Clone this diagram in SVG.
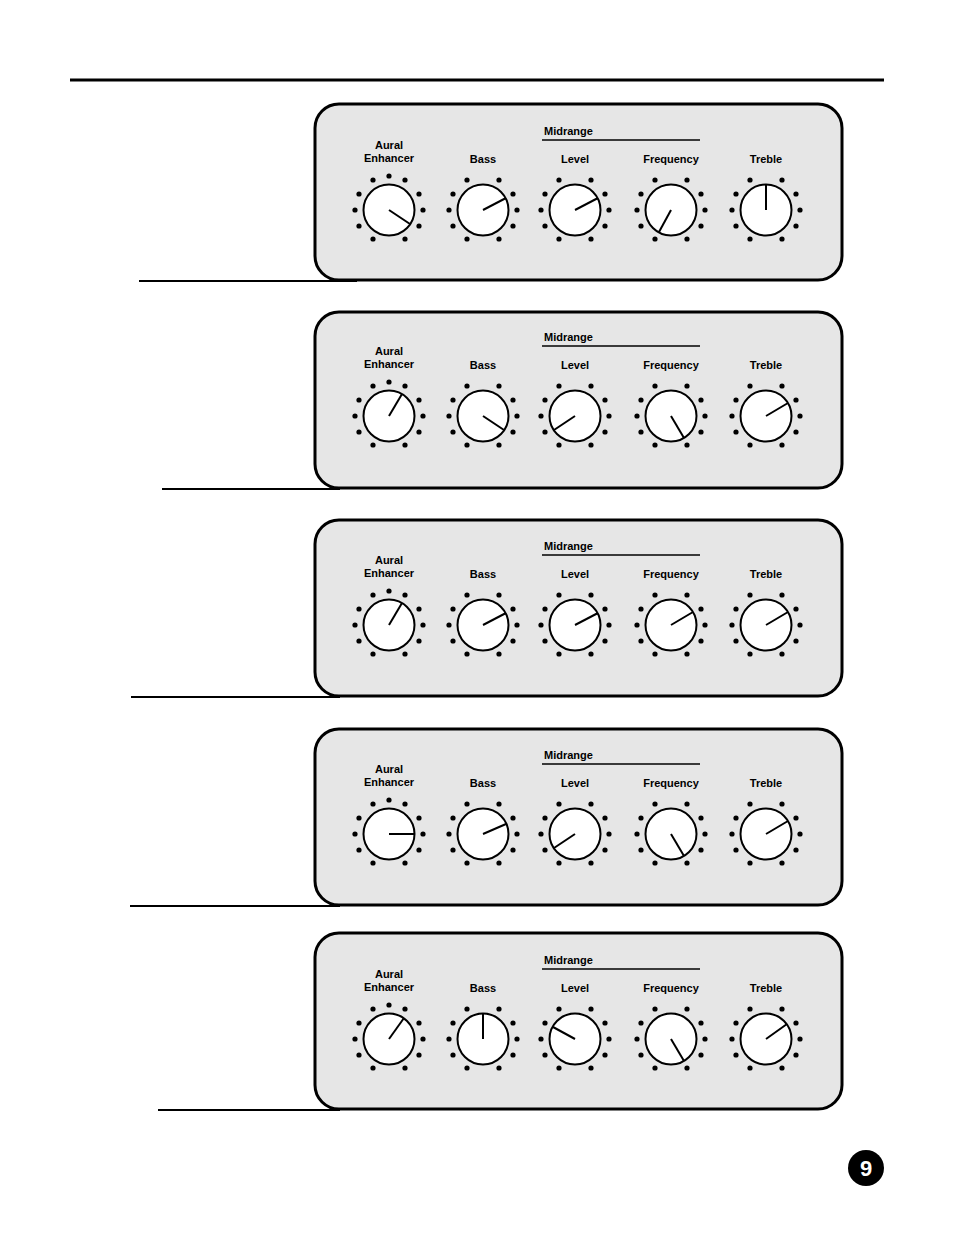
<svg xmlns="http://www.w3.org/2000/svg" width="954" height="1235" viewBox="0 0 954 1235">
<style>
.p{fill:#e6e6e6;stroke:#000;stroke-width:3}
.k{fill:#fff;stroke:#000;stroke-width:2}
.t{font-family:"Liberation Sans",Arial,sans-serif;font-weight:bold;font-size:11px;text-anchor:middle}
.tm{font-family:"Liberation Sans",Arial,sans-serif;font-weight:bold;font-size:11px}
.l{stroke:#000;stroke-width:2}
.r{stroke:#000;stroke-width:1.5}
</style>
<defs>
<g id="d10"><circle cx="-16" cy="-30" r="2.6"/><circle cx="-30" cy="-16" r="2.6"/><circle cx="-34" cy="0" r="2.6"/><circle cx="-30" cy="16" r="2.6"/><circle cx="-16" cy="29" r="2.6"/><circle cx="16" cy="-30" r="2.6"/><circle cx="30" cy="-16" r="2.6"/><circle cx="34" cy="0" r="2.6"/><circle cx="30" cy="16" r="2.6"/><circle cx="16" cy="29" r="2.6"/></g>
<g id="d11"><use href="#d10"/><circle cx="0" cy="-34" r="2.6"/></g>
<circle id="kn" r="25.5" class="k"/>
<g id="labels">
<text class="t" x="389" y="-61">Aural</text><text class="t" x="389" y="-48">Enhancer</text>
<text class="t" x="483" y="-47">Bass</text><text class="t" x="575" y="-47">Level</text>
<text class="t" x="671" y="-47">Frequency</text><text class="t" x="766" y="-47">Treble</text>
<text class="tm" x="544" y="-75">Midrange</text>
<line x1="542" y1="-70" x2="700" y2="-70" class="r"/>
</g>
</defs>
<line x1="70" y1="80" x2="884" y2="80" stroke="#000" stroke-width="3"/>
<g id="panel1">
<rect class="p" x="315" y="104" width="527" height="176" rx="24"/>
<line x1="139" y1="281" x2="357" y2="281" class="l"/>
<g transform="translate(0,210)"><use href="#labels"/>
<use href="#d11" x="389"/><use href="#kn" x="389"/><line x1="389" y1="0" x2="410" y2="14" class="l"/>
<use href="#d10" x="483"/><use href="#kn" x="483"/><line x1="483" y1="0" x2="506" y2="-12" class="l"/>
<use href="#d10" x="575"/><use href="#kn" x="575"/><line x1="575" y1="0" x2="598" y2="-12" class="l"/>
<use href="#d10" x="671"/><use href="#kn" x="671"/><line x1="671" y1="0" x2="659" y2="22" class="l"/>
<use href="#d10" x="766"/><use href="#kn" x="766"/><line x1="766" y1="0" x2="766" y2="-25" class="l"/>
</g></g>
<g id="panel2">
<rect class="p" x="315" y="312" width="527" height="176" rx="24"/>
<line x1="162" y1="489" x2="340" y2="489" class="l"/>
<g transform="translate(0,416)"><use href="#labels"/>
<use href="#d11" x="389"/><use href="#kn" x="389"/><line x1="389" y1="0" x2="402" y2="-22" class="l"/>
<use href="#d10" x="483"/><use href="#kn" x="483"/><line x1="483" y1="0" x2="504" y2="14" class="l"/>
<use href="#d10" x="575"/><use href="#kn" x="575"/><line x1="575" y1="0" x2="554" y2="14" class="l"/>
<use href="#d10" x="671"/><use href="#kn" x="671"/><line x1="671" y1="0" x2="684" y2="22" class="l"/>
<use href="#d10" x="766"/><use href="#kn" x="766"/><line x1="766" y1="0" x2="788" y2="-13" class="l"/>
</g></g>
<g id="panel3">
<rect class="p" x="315" y="520" width="527" height="176" rx="24"/>
<line x1="131" y1="697" x2="340" y2="697" class="l"/>
<g transform="translate(0,625)"><use href="#labels"/>
<use href="#d11" x="389"/><use href="#kn" x="389"/><line x1="389" y1="0" x2="402" y2="-22" class="l"/>
<use href="#d10" x="483"/><use href="#kn" x="483"/><line x1="483" y1="0" x2="506" y2="-12" class="l"/>
<use href="#d10" x="575"/><use href="#kn" x="575"/><line x1="575" y1="0" x2="598" y2="-12" class="l"/>
<use href="#d10" x="671"/><use href="#kn" x="671"/><line x1="671" y1="0" x2="693" y2="-13" class="l"/>
<use href="#d10" x="766"/><use href="#kn" x="766"/><line x1="766" y1="0" x2="788" y2="-13" class="l"/>
</g></g>
<g id="panel4">
<rect class="p" x="315" y="729" width="527" height="176" rx="24"/>
<line x1="130" y1="906" x2="340" y2="906" class="l"/>
<g transform="translate(0,834)"><use href="#labels"/>
<use href="#d11" x="389"/><use href="#kn" x="389"/><line x1="389" y1="0" x2="414" y2="0" class="l"/>
<use href="#d10" x="483"/><use href="#kn" x="483"/><line x1="483" y1="0" x2="506" y2="-10" class="l"/>
<use href="#d10" x="575"/><use href="#kn" x="575"/><line x1="575" y1="0" x2="554" y2="14" class="l"/>
<use href="#d10" x="671"/><use href="#kn" x="671"/><line x1="671" y1="0" x2="684" y2="22" class="l"/>
<use href="#d10" x="766"/><use href="#kn" x="766"/><line x1="766" y1="0" x2="788" y2="-13" class="l"/>
</g></g>
<g id="panel5">
<rect class="p" x="315" y="933" width="527" height="176" rx="24"/>
<line x1="158" y1="1110" x2="340" y2="1110" class="l"/>
<g transform="translate(0,1039)"><use href="#labels"/>
<use href="#d11" x="389"/><use href="#kn" x="389"/><line x1="389" y1="0" x2="404" y2="-21" class="l"/>
<use href="#d10" x="483"/><use href="#kn" x="483"/><line x1="483" y1="0" x2="483" y2="-25" class="l"/>
<use href="#d10" x="575"/><use href="#kn" x="575"/><line x1="575" y1="0" x2="553" y2="-12" class="l"/>
<use href="#d10" x="671"/><use href="#kn" x="671"/><line x1="671" y1="0" x2="684" y2="22" class="l"/>
<use href="#d10" x="766"/><use href="#kn" x="766"/><line x1="766" y1="0" x2="787" y2="-15" class="l"/>
</g></g>
<g id="pagenum">
<circle cx="866" cy="1168" r="18" fill="#000"/>
<text x="866" y="1176" fill="#fff" font-family="Liberation Sans,Arial,sans-serif" font-weight="bold" font-size="22" text-anchor="middle">9</text>
</g>
</svg>
